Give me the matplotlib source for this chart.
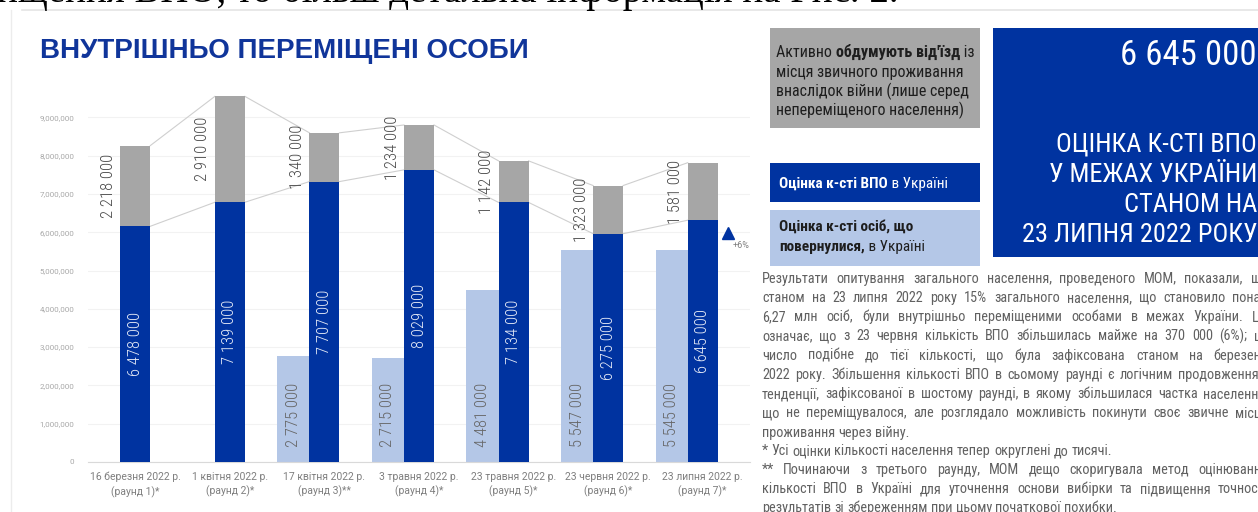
import matplotlib
matplotlib.use("Agg")
import matplotlib.pyplot as plt
from matplotlib import font_manager as fm
from matplotlib.patches import Rectangle
from matplotlib.lines import Line2D

# ---------------- data ----------------
categories = ["16 березня 2022 р.\n(раунд 1)*", "1 квітня 2022 р.\n(раунд 2)*",
              "17 квітня 2022 р.\n(раунд 3)**", "3 травня 2022 р.\n(раунд 4)*",
              "23 травня 2022 р.\n(раунд 5)*", "23 червня 2022 р.\n(раунд 6)*",
              "23 липня 2022 р.\n(раунд 7)*"]
idp = [6478000, 7139000, 7707000, 8029000, 7134000, 6275000, 6645000]
considering = [2218000, 2910000, 1340000, 1234000, 1142000, 1323000, 1581000]
returnees = [0, 0, 2775000, 2715000, 4481000, 5547000, 5545000]
y_ticks = [0, 1000000, 2000000, 3000000, 4000000, 5000000, 6000000, 7000000, 8000000, 9000000]
change_label = "+6%"
headline_value = "6 645 000"
headline_lines = ["ОЦІНКА К-СТІ ВПО", "У МЕЖАХ УКРАЇНИ", "СТАНОМ НА", "23 ЛИПНЯ 2022 РОКУ"]

title = "ВНУТРІШНЬО ПЕРЕМІЩЕНІ ОСОБИ"
paragraph = [
    "Результати опитування загального населення, проведеного МОМ, показали, що",
    "станом на 23 липня 2022 року 15% загального населення, що становило понад",
    "6,27 млн осіб, були внутрішньо переміщеними особами в межах України. Це",
    "означає, що з 23 червня кількість ВПО збільшилась майже на 370 000 (6%); це",
    "число подібне до тієї кількості, що була зафіксована станом на березень",
    "2022 року. Збільшення кількості ВПО в сьомому раунді є логічним продовженням",
    "тенденції, зафіксованої в шостому раунді, в якому збільшилася частка населення,",
    "що не переміщувалося, але розглядало можливість покинути своє звичне місце",
    "проживання через війну.",
]
footnotes = [
    "* Усі оцінки кількості населення тепер округлені до тисячі.",
    "** Починаючи з третього раунду, МОМ дещо скоригувала метод оцінювання",
    "кількості ВПО в Україні для уточнення основи вибірки та підвищення точності",
    "результатів зі збереженням при цьому початкової похибки.",
]

# ---------------- style ----------------
W, H, DPI = 1258, 512, 100
BLUE = "#0033A0"
GRAY = "#A6A6A6"
LIGHT = "#B4C7E7"
TXT_GRAY = "#616161"

names = {f.name for f in fm.fontManager.ttflist}
NARROW, NS = "Roboto", 0.84
for cand in ["Roboto Condensed", "PT Sans Narrow", "Fira Sans Condensed", "Liberation Sans Narrow"]:
    if cand in names:
        NARROW, NS = cand, 1.0
        break
REG = "Roboto"

fig = plt.figure(figsize=(W / DPI, H / DPI), dpi=DPI)
fig.patch.set_facecolor("white")
R = fig.canvas.get_renderer()


def fx(px):
    return px / W


def fy(py):
    return 1 - py / H


# slide frame
fig.add_artist(Line2D([fx(22), 1], [fy(10), fy(10)], color="#e4e4e4", lw=1.2))
fig.add_artist(Line2D([fx(11), fx(11)], [fy(10), 0], color="#ececec", lw=1.0))

# clipped document text at the top
fig.text(fx(-3), fy(2), "ищення ВПО, то більш детальна інформація на Рис. 2.",
         family="Liberation Serif", fontsize=28, va="baseline", ha="left", color="black")

# title
fig.text(fx(40), fy(58), title, family="Liberation Sans", fontweight="bold",
         fontsize=20, color="#10359A", va="baseline", ha="left")

# ---------------- chart ----------------
ax = fig.add_axes([fx(88), 50 / H, 662 / W, 383 / H])
ax2 = ax.twinx()
SCALE = 0.95
YMAX = 10000000
ax.set_ylim(0, YMAX)
ax2.set_ylim(0, YMAX / SCALE)
ax.set_xlim(-0.5, len(categories) - 0.5)

xs = list(range(len(categories)))
wb, wl = 0.317, 0.34

ax.bar([x - wb / 2 - wl / 2 for x in xs], returnees, width=wl, color=LIGHT, zorder=2)
ax2.bar(xs, idp, width=wb, color=BLUE, zorder=2)
ax2.bar(xs, considering, width=wb, bottom=idp, color=GRAY, zorder=2)

tops = [a + b for a, b in zip(idp, considering)]
for i in range(len(xs) - 1):
    for series in (idp, tops):
        ax2.plot([xs[i] + wb / 2, xs[i + 1] - wb / 2], [series[i], series[i + 1]],
                 color="#cfcfcf", lw=0.8, zorder=1)


def fmt(v):
    return f"{v:,}".replace(",", " ")


VS = 12 * NS
for i, x in enumerate(xs):
    ax2.text(x, idp[i] / 2, fmt(idp[i]), rotation=90, ha="center", va="center",
             family=NARROW, fontweight="light", fontsize=VS, color="#E6EBF7", zorder=3)
    ax2.text(x - 0.285, idp[i] + considering[i] / 2, fmt(considering[i]), rotation=90,
             ha="center", va="center", family=NARROW, fontweight="light", fontsize=VS,
             color="#4A4A4A", zorder=3)
    if returnees[i]:
        ax.text(x - wb / 2 - wl / 2, 380000, fmt(returnees[i]), rotation=90,
                ha="center", va="bottom", family=NARROW, fontweight="light", fontsize=VS,
                color="#666666", zorder=3)

ax2.plot([xs[-1] + 0.27], [idp[-1] - 355000], marker="^", ms=9, color=BLUE,
         clip_on=False, zorder=4)
ax2.text(xs[-1] + 0.405, idp[-1] - 705000, change_label, ha="center", va="center",
         family=REG, fontsize=6.5, color="#808080")

ax.set_yticks(y_ticks)
ax.set_yticklabels([f"{t:,}" for t in y_ticks], family=REG, fontsize=5.8, color="#A8A8A8")
ax.set_xticks(xs)
ax.set_xticklabels(categories, family=REG, fontsize=7.5, color="#7F7F7F", linespacing=1.45)
ax.tick_params(axis="y", length=0, pad=10)
ax.tick_params(axis="x", length=0, pad=7)
ax.grid(axis="y", color="#F2F2F2", lw=0.8, zorder=0)
ax.set_axisbelow(True)
ax2.set_yticks([])
for a in (ax, ax2):
    for s in ("top", "right", "left"):
        a.spines[s].set_visible(False)
    a.spines["bottom"].set_color("#D9D9D9")
    a.patch.set_alpha(0)
ax2.spines["bottom"].set_visible(False)


# ---------------- right panel ----------------
def box(x0, y0, x1, y1, color):
    fig.add_artist(Rectangle((fx(x0), fy(y1)), fx(x1 - x0), (y1 - y0) / H,
                             facecolor=color, edgecolor="none"))


def runs(x, y, parts, size, color, family=NARROW):
    for txt, bold in parts:
        t = fig.text(fx(x), fy(y), txt, family=family, fontsize=size,
                     fontweight="bold" if bold else "normal", color=color,
                     va="baseline", ha="left")
        x += t.get_window_extent(renderer=R).width


box(770, 28, 980, 128, GRAY)
box(770, 163, 980, 202, BLUE)
box(770, 210, 980, 266, LIGHT)
box(993, 28, 1262, 257, BLUE)

gs = 11.5 * NS
runs(776, 57, [("Активно ", False), ("обдумують від'їзд", True), (" із", False)], gs, "#1E1E1E")
runs(776, 76.5, [("місця звичного проживання", False)], gs, "#1E1E1E")
runs(776, 96, [("внаслідок війни (лише серед", False)], gs, "#1E1E1E")
runs(776, 115.5, [("непереміщеного населення)", False)], gs, "#1E1E1E")
bs = 11 * NS
runs(779, 188, [("Оцінка к-сті ВПО", True), (" в Україні", False)], bs, "white")
runs(779, 231, [("Оцінка к-сті осіб, що", True)], bs, "#1E1E1E")
runs(779, 251.5, [("повернулися,", True), (" в Україні", False)], bs, "#1E1E1E")

fig.text(fx(1257), fy(65), headline_value, family=NARROW, fontsize=25 * NS, color="white",
         ha="right", va="baseline")
for yb, line in zip([151.7, 182.5, 212.5, 241.5], headline_lines):
    fig.text(fx(1257), fy(yb), line, family=NARROW, fontsize=19 * NS, color="white",
             ha="right", va="baseline")


def justify(line, x0, x1, y, size, color, last=False):
    words = line.split()
    texts = [fig.text(0, fy(y), w, family=NARROW, fontsize=size, color=color,
                      va="baseline", ha="left") for w in words]
    widths = [t.get_window_extent(renderer=R).width for t in texts]
    if last or len(words) == 1:
        t1 = fig.text(0, 0, "a a", family=NARROW, fontsize=size)
        t2 = fig.text(0, 0, "aa", family=NARROW, fontsize=size)
        gap = t1.get_window_extent(renderer=R).width - t2.get_window_extent(renderer=R).width
        t1.remove()
        t2.remove()
    else:
        gap = (x1 - x0 - sum(widths)) / (len(words) - 1)
    x = x0
    for t, w in zip(texts, widths):
        t.set_x(fx(x))
        x += w + gap


ps = 10.3 * NS
for i, line in enumerate(paragraph):
    justify(line, 762, 1268, 282.7 + 19.25 * i, ps, TXT_GRAY, last=(i == len(paragraph) - 1))
justify(footnotes[0], 762, 1268, 455, ps, TXT_GRAY, last=True)
for i, line in enumerate(footnotes[1:]):
    justify(line, 762, 1268, 474 + 19 * i, ps, TXT_GRAY, last=(i == len(footnotes) - 2))

fig.savefig("out.png", dpi=DPI)
